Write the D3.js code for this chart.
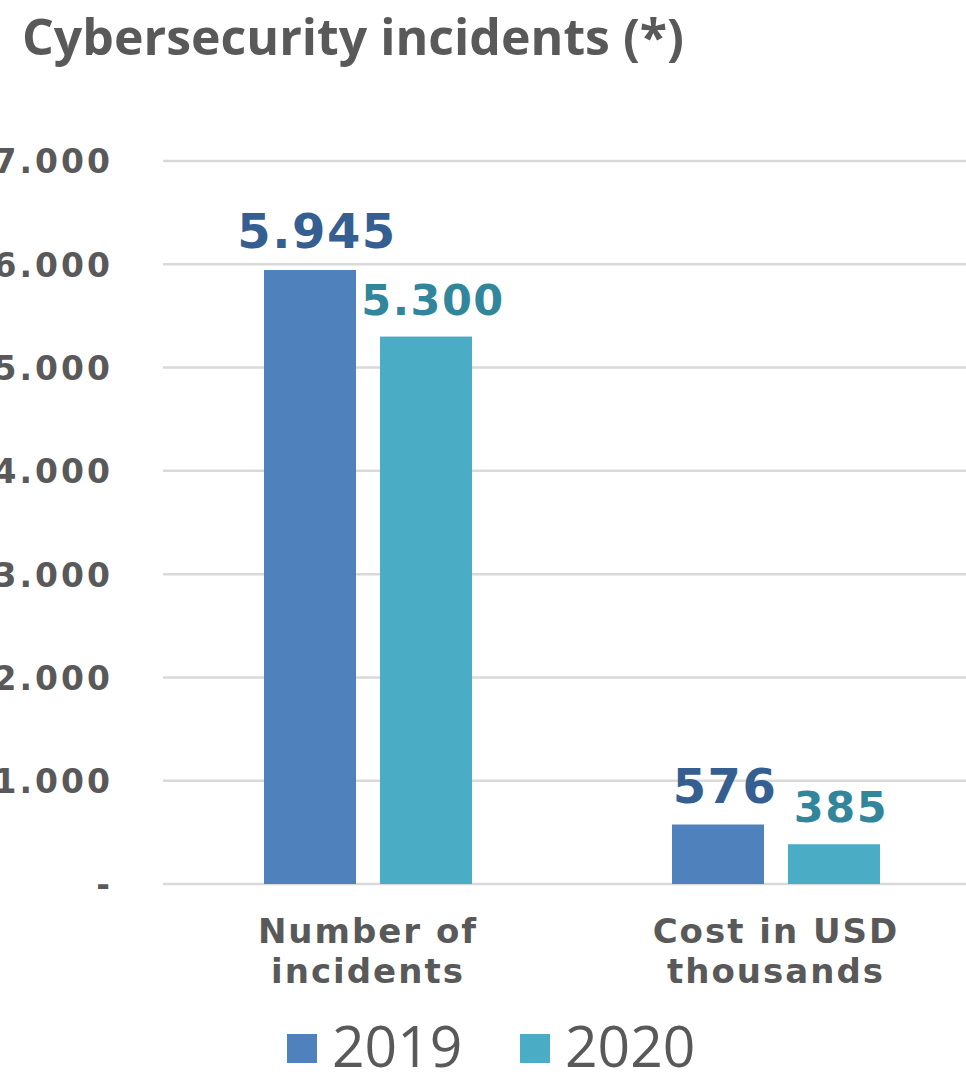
<!DOCTYPE html>
<html>
<head>
<meta charset="utf-8">
<script src="https://cdn.jsdelivr.net/npm/d3@7/dist/d3.min.js"></script>
<style>
  html, body { margin: 0; padding: 0; background: #fff; }
  svg { display: block; }
</style>
</head>
<body>
<svg id="chart" width="966" height="1072"></svg>
<script>
// Chart data
const categories = [["Number of", "incidents"], ["Cost in USD", "thousands"]];
const categoryKeys = ["incidents", "cost"];
const seriesNames = ["2019", "2020"];
const values2019 = [5945, 576];
const values2020 = [5300, 385];
const valueLabels2019 = ["5.945", "576"];
const valueLabels2020 = ["5.300", "385"];
const yTicks = [0, 1000, 2000, 3000, 4000, 5000, 6000, 7000];
const yTickLabels = ["-", "1.000", "2.000", "3.000", "4.000", "5.000", "6.000", "7.000"];

const barColors = { "2019": "#4f81bd", "2020": "#4bacc6" };
const labelColors = { "2019": "#365f91", "2020": "#31869b" };
const labelSizes = { "2019": 48, "2020": 43 };
const textGray = "#595959";
const boldFont = "'DejaVu Sans', Verdana, sans-serif";

const svg = d3.select("#chart");

// Title
svg.append("text")
  .attr("x", 22).attr("y", 55)
  .attr("font-family", "'Open Sans', sans-serif")
  .attr("font-weight", 700)
  .attr("font-size", 50)
  .attr("fill", textGray)
  .text("Cybersecurity incidents (*)");

const gridLeft = 163, gridRight = 966;
const y = d3.scaleLinear().domain([0, 7000]).range([884, 161]);
const x0 = d3.scaleBand().domain(categoryKeys).range([164, 980]).paddingInner(0).paddingOuter(0);
const groupW = 208;
const x1 = d3.scaleBand().domain(seriesNames).range([0, groupW]).paddingInner(24 / 116).paddingOuter(0);

// Gridlines
svg.append("g").selectAll("line").data(yTicks).join("line")
  .attr("x1", gridLeft).attr("x2", gridRight)
  .attr("y1", d => y(d)).attr("y2", d => y(d))
  .attr("stroke", "#d9d9d9").attr("stroke-width", 2.5);

// Y axis labels
const yAxis = d3.axisLeft(y).tickValues(yTicks).tickSize(0).tickPadding(0)
  .tickFormat((d, i) => yTickLabels[i]);
const gy = svg.append("g").attr("transform", "translate(113,0)").call(yAxis);
gy.select(".domain").remove();
gy.selectAll("text")
  .attr("font-family", boldFont)
  .attr("font-weight", "bold")
  .attr("font-size", 33)
  .attr("letter-spacing", 3)
  .attr("fill", textGray)
  .attr("dy", "0.36em");

// Bars
const rows = categoryKeys.map((k, i) => ({
  key: k,
  items: [
    { s: "2019", v: values2019[i], label: valueLabels2019[i] },
    { s: "2020", v: values2020[i], label: valueLabels2020[i] }
  ]
}));

const groups = svg.append("g").selectAll("g").data(rows).join("g")
  .attr("transform", d => `translate(${x0(d.key) + (x0.bandwidth() - groupW) / 2},0)`);

groups.selectAll("rect").data(d => d.items).join("rect")
  .attr("x", d => x1(d.s))
  .attr("width", x1.bandwidth())
  .attr("y", d => y(d.v))
  .attr("height", d => y(0) - y(d.v))
  .attr("fill", d => barColors[d.s]);

groups.selectAll("text.val").data(d => d.items).join("text")
  .attr("class", "val")
  .attr("x", d => x1(d.s) + x1.bandwidth() / 2 + 7)
  .attr("y", d => y(d.v) - 22)
  .attr("text-anchor", "middle")
  .attr("font-family", boldFont)
  .attr("font-weight", "bold")
  .attr("font-size", d => labelSizes[d.s])
  .attr("letter-spacing", 1.5)
  .attr("fill", d => labelColors[d.s])
  .text(d => d.label);

// Category labels
const catG = svg.append("g").selectAll("text").data(categoryKeys).join("text")
  .attr("y", 943)
  .attr("text-anchor", "middle")
  .attr("font-family", boldFont)
  .attr("font-weight", "bold")
  .attr("font-size", 34)
  .attr("letter-spacing", 2)
  .attr("fill", textGray);
catG.each(function(d, i) {
  const t = d3.select(this);
  categories[i].forEach((line, j) => {
    t.append("tspan").attr("x", x0(d) + x0.bandwidth() / 2).attr("dy", j === 0 ? 0 : 40).text(line);
  });
});

// Legend
const legendX = [287, 520];
const legend = svg.append("g").selectAll("g").data(seriesNames).join("g")
  .attr("transform", (d, i) => `translate(${legendX[i]},1034)`);
legend.append("rect").attr("width", 30).attr("height", 29).attr("fill", d => barColors[d]);
legend.append("text")
  .attr("x", 45).attr("y", 33)
  .attr("font-family", "'Open Sans', sans-serif")
  .attr("font-size", 57)
  .attr("fill", textGray)
  .text(d => d);
</script>
</body>
</html>
